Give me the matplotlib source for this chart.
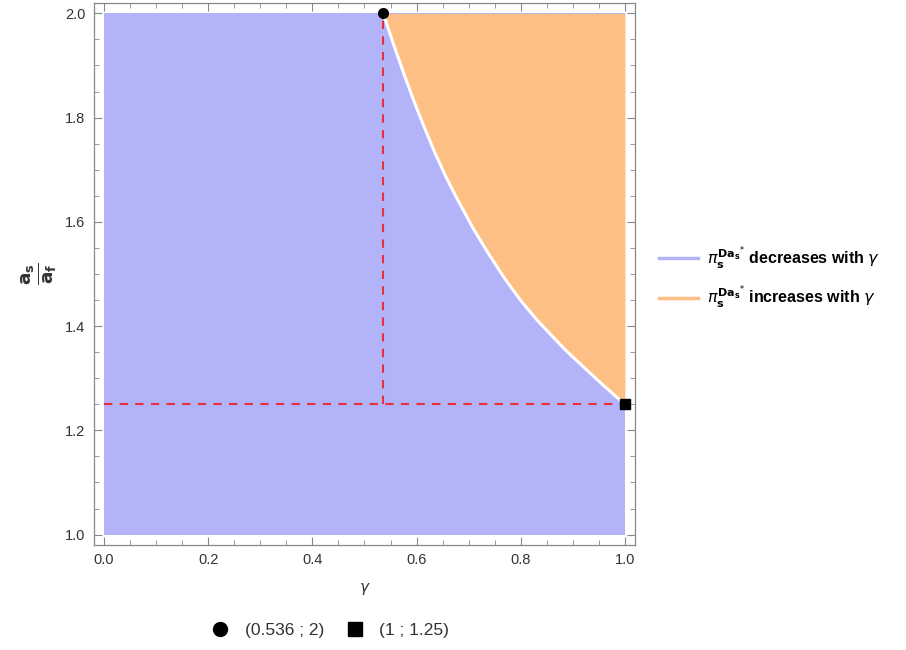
import numpy as np
import matplotlib.pyplot as plt
from matplotlib.lines import Line2D
from matplotlib.ticker import MultipleLocator

plt.rcParams['font.family'] = ['Liberation Sans', 'DejaVu Sans']
plt.rcParams['mathtext.fontset'] = 'dejavusans'

# boundary curve
gamma_b = [0.536, 0.555, 0.575, 0.594, 0.615, 0.635, 0.657, 0.679, 0.710, 0.740,
           0.770, 0.800, 0.830, 0.860, 0.887, 0.920, 0.960, 1.0]
ratio_b = [2.000, 1.943, 1.886, 1.834, 1.781, 1.733, 1.685, 1.642, 1.585, 1.536,
           1.490, 1.449, 1.413, 1.381, 1.353, 1.322, 1.285, 1.25]

gamma_range = [0.0, 1.0]
ratio_range = [1.0, 2.0]

pt_circle = (0.536, 2.0)
pt_square = (1.0, 1.25)

blue = '#b3b3fa'
orange = '#fdbf84'
red = '#e8303a'
grey = '#888888'
txt = '#333333'

fig = plt.figure(figsize=(9.06, 6.5), dpi=100)
ax = fig.add_axes([0.1033, 0.1615, 0.598, 0.834])

ax.fill_between(gamma_range, ratio_range[0], ratio_range[1], color=blue, lw=0, zorder=1)
ax.fill_between(gamma_b, ratio_b, ratio_range[1], color=orange, lw=0, zorder=2)
ax.plot(gamma_b, ratio_b, color='white', lw=2.2, zorder=3, solid_joinstyle='round')

ax.plot([pt_circle[0], pt_circle[0]], [pt_square[1], pt_circle[1]], color=red,
        lw=1.5, dashes=(4, 3.5), zorder=4)
ax.plot(gamma_range, [pt_square[1], pt_square[1]], color=red, lw=1.5,
        dashes=(4, 3.5), zorder=4)

ax.plot(*pt_circle, 'o', color='black', ms=7, zorder=5, clip_on=False)
ax.plot(*pt_square, 's', color='black', ms=7, zorder=5, clip_on=False)

ax.set_xlim(-0.02, 1.02)
ax.set_ylim(0.98, 2.02)
ax.xaxis.set_major_locator(MultipleLocator(0.2))
ax.xaxis.set_minor_locator(MultipleLocator(0.05))
ax.yaxis.set_major_locator(MultipleLocator(0.2))
ax.yaxis.set_minor_locator(MultipleLocator(0.05))
ax.tick_params(which='both', direction='in', top=True, right=True, color=grey,
               labelcolor=txt, labelsize=10.5)
ax.tick_params(which='major', length=6, width=0.8, pad=6)
ax.tick_params(which='minor', length=3.5, width=0.6)
for s in ax.spines.values():
    s.set_color(grey)
    s.set_linewidth(0.9)

ax.set_xlabel(r'$\gamma$', color=txt, fontsize=11, labelpad=10)
ax.set_ylabel(r'$\mathbf{\frac{a_s}{a_f}}$', color=txt, fontsize=19, labelpad=4)

handles = [Line2D([], [], color=blue, lw=2.5), Line2D([], [], color=orange, lw=2.5)]
labels = [r'$\pi_\mathbf{s}^{\mathbf{Da}_\mathbf{s}{}^{*}}$ decreases with $\gamma$',
          r'$\pi_\mathbf{s}^{\mathbf{Da}_\mathbf{s}{}^{*}}$ increases with $\gamma$']
leg = fig.legend(handles, labels, loc='center left', bbox_to_anchor=(0.712, 0.573),
                 frameon=False, handlelength=2.4, labelspacing=0.75, handletextpad=0.6,
                 prop={'weight': 'bold', 'size': 11.5})
for t in leg.get_texts():
    t.set_color('black')

mk = [Line2D([], [], marker='o', color='black', ls='none', ms=10),
      Line2D([], [], marker='s', color='black', ls='none', ms=10)]
fig.legend(mk, ['(0.536 ; 2)', '(1 ; 1.25)'], loc='center', ncol=2,
           bbox_to_anchor=(0.36, 0.03), frameon=False, handletextpad=0.4,
           columnspacing=0.8, prop={'size': 12.5}, labelcolor=txt)

fig.savefig('out.png', dpi=100)
